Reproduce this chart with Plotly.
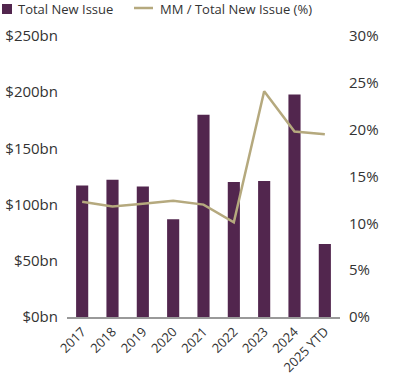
import plotly.graph_objects as go

categories = ["2017", "2018", "2019", "2020", "2021", "2022", "2023", "2024", "2025 YTD"]
total_new_issue = [117, 122, 116, 87, 180, 120, 121, 198, 65]
mm_share_pct = [12.3, 11.8, 12.1, 12.4, 12.0, 10.1, 24.1, 19.8, 19.5]
left_ticks = [0, 50, 100, 150, 200, 250]
left_tick_text = ["$0bn", "$50bn", "$100bn", "$150bn", "$200bn", "$250bn"]
right_ticks = [0, 5, 10, 15, 20, 25, 30]
right_tick_text = ["0%", "5%", "10%", "15%", "20%", "25%", "30%"]
series_names = ["Total New Issue", "MM / Total New Issue (%)"]

bar_color = "#52264E"
line_color = "#B5A97E"
text_color = "#333333"
font_family = "'Open Sans', Lato, sans-serif"

W, H = 400, 375
ML, MR, MT, MB = 67, 60, 36, 58
PW, PH = W - ML - MR, H - MT - MB


def px(x):
    return (x - ML) / PW


def py(y):
    return (H - MB - y) / PH


fig = go.Figure()
fig.add_trace(go.Bar(
    x=categories, y=total_new_issue, name=series_names[0],
    marker=dict(color=bar_color, line=dict(width=0)), width=0.4, yaxis="y",
))
fig.add_trace(go.Scatter(
    x=categories, y=mm_share_pct, name=series_names[1],
    mode="lines", line=dict(color=line_color, width=2.5), yaxis="y2",
))

# manual legend (matches reference symbol sizes)
fig.add_shape(type="rect", xref="paper", yref="paper",
              x0=px(2), x1=px(12), y0=py(14), y1=py(4),
              fillcolor=bar_color, line=dict(width=0))
fig.add_shape(type="line", xref="paper", yref="paper",
              x0=px(134), x1=px(153), y0=py(8), y1=py(8),
              line=dict(color=line_color, width=2.5))
fig.add_annotation(text=series_names[0], xref="paper", yref="paper",
                   x=px(16), y=py(9), xanchor="left", yanchor="middle",
                   showarrow=False, font=dict(size=13, color=text_color))
fig.add_annotation(text=series_names[1], xref="paper", yref="paper",
                   x=px(158), y=py(9), xanchor="left", yanchor="middle",
                   showarrow=False, font=dict(size=13, color=text_color))

fig.update_layout(
    width=W, height=H,
    margin=dict(l=ML, r=MR, t=MT, b=MB, autoexpand=False),
    paper_bgcolor="white", plot_bgcolor="white",
    font=dict(family=font_family, color=text_color, size=15),
    showlegend=False,
    xaxis=dict(type="category", tickangle=-45, showgrid=False, automargin=False,
               showline=True, linecolor="#999999", linewidth=2,
               ticks="", ticklabelstandoff=0, tickfont=dict(size=13, color=text_color)),
    yaxis=dict(range=[0, 250], tickvals=left_ticks, ticktext=left_tick_text,
               showgrid=False, zeroline=False, showline=False, ticks="", automargin=False,
               ticklabelstandoff=8, tickfont=dict(size=15, color=text_color)),
    yaxis2=dict(range=[0, 30], tickvals=right_ticks, ticktext=right_tick_text,
                overlaying="y", side="right", showgrid=False, zeroline=False, automargin=False,
                showline=False, ticks="", ticklabelstandoff=8,
                tickfont=dict(size=15, color=text_color)),
    bargap=0.6,
)

fig.write_html("out.html", config={"displayModeBar": False},
               post_script="document.body.style.margin='0';")
